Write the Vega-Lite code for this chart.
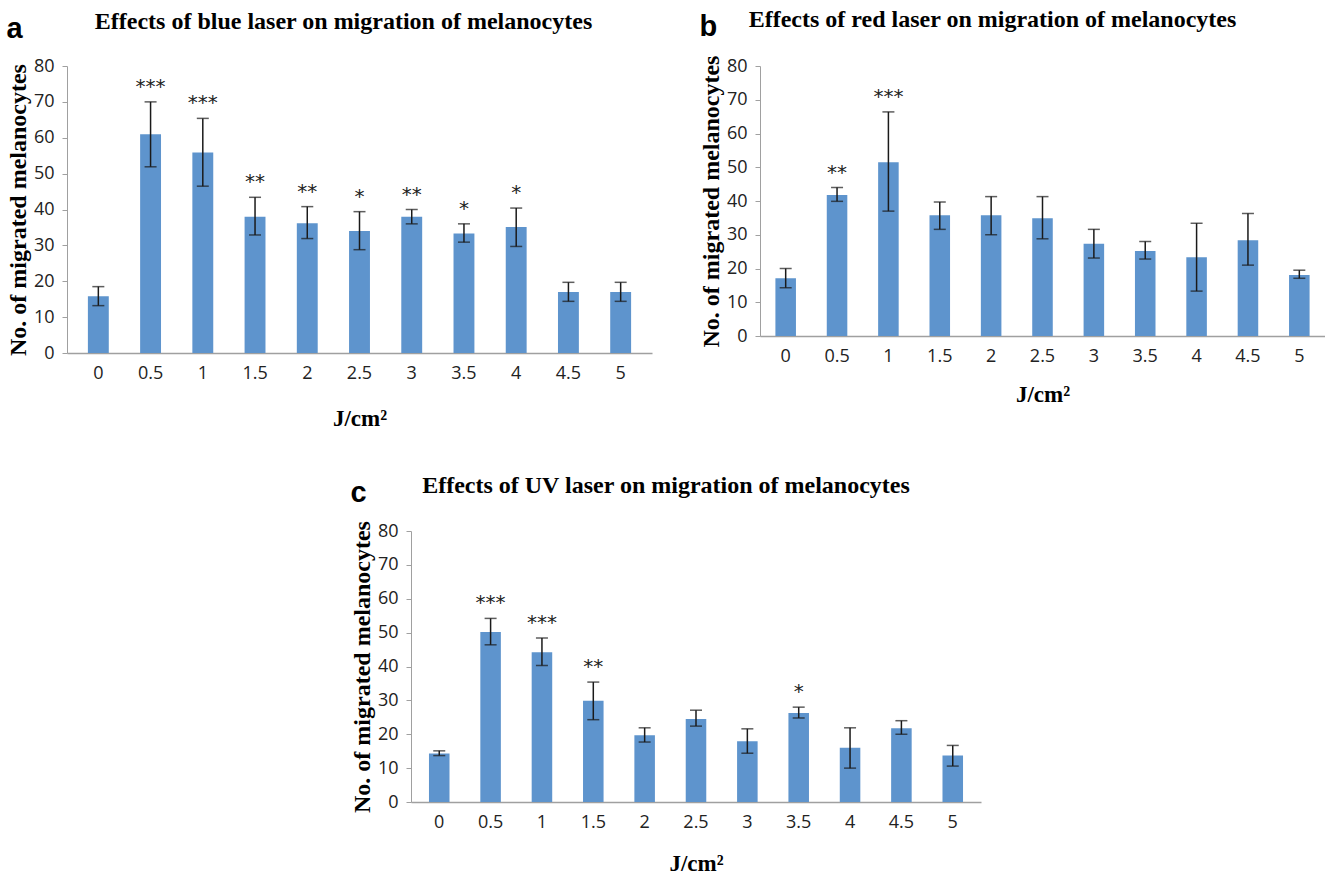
{
  "$schema": "https://vega.github.io/schema/vega-lite/v6.json",
  "padding": {"left": 6, "top": 8, "right": 0, "bottom": 0},
  "background": "white",
  "datasets": {
    "a": [
      {"dose": "0", "mean": 15.8, "lo": 13.2, "hi": 18.5, "sig": ""},
      {"dose": "0.5", "mean": 61.0, "lo": 51.9, "hi": 70.0, "sig": "***"},
      {"dose": "1", "mean": 55.9, "lo": 46.5, "hi": 65.4, "sig": "***"},
      {"dose": "1.5", "mean": 38.0, "lo": 32.9, "hi": 43.4, "sig": "**"},
      {"dose": "2", "mean": 36.2, "lo": 31.9, "hi": 40.8, "sig": "**"},
      {"dose": "2.5", "mean": 34.0, "lo": 28.8, "hi": 39.4, "sig": "*"},
      {"dose": "3", "mean": 38.0, "lo": 36.0, "hi": 40.0, "sig": "**"},
      {"dose": "3.5", "mean": 33.3, "lo": 30.9, "hi": 36.0, "sig": "*"},
      {"dose": "4", "mean": 35.1, "lo": 29.7, "hi": 40.4, "sig": "*"},
      {"dose": "4.5", "mean": 17.0, "lo": 14.4, "hi": 19.7, "sig": ""},
      {"dose": "5", "mean": 17.0, "lo": 14.4, "hi": 19.7, "sig": ""}
    ],
    "b": [
      {"dose": "0", "mean": 17.1, "lo": 14.3, "hi": 20.0, "sig": ""},
      {"dose": "0.5", "mean": 41.8, "lo": 39.9, "hi": 44.0, "sig": "**"},
      {"dose": "1", "mean": 51.5, "lo": 37.0, "hi": 66.4, "sig": "***"},
      {"dose": "1.5", "mean": 35.8, "lo": 31.6, "hi": 39.7, "sig": ""},
      {"dose": "2", "mean": 35.8, "lo": 30.0, "hi": 41.3, "sig": ""},
      {"dose": "2.5", "mean": 34.9, "lo": 28.8, "hi": 41.3, "sig": ""},
      {"dose": "3", "mean": 27.3, "lo": 23.1, "hi": 31.6, "sig": ""},
      {"dose": "3.5", "mean": 25.2, "lo": 22.8, "hi": 28.0, "sig": ""},
      {"dose": "4", "mean": 23.3, "lo": 13.3, "hi": 33.4, "sig": ""},
      {"dose": "4.5", "mean": 28.4, "lo": 21.0, "hi": 36.3, "sig": ""},
      {"dose": "5", "mean": 18.1, "lo": 17.1, "hi": 19.5, "sig": ""}
    ],
    "c": [
      {"dose": "0", "mean": 14.3, "lo": 13.7, "hi": 15.1, "sig": ""},
      {"dose": "0.5", "mean": 50.2, "lo": 46.4, "hi": 54.2, "sig": "***"},
      {"dose": "1", "mean": 44.2, "lo": 40.3, "hi": 48.4, "sig": "***"},
      {"dose": "1.5", "mean": 29.9, "lo": 24.3, "hi": 35.4, "sig": "**"},
      {"dose": "2", "mean": 19.7, "lo": 17.7, "hi": 21.9, "sig": ""},
      {"dose": "2.5", "mean": 24.5, "lo": 22.4, "hi": 27.1, "sig": ""},
      {"dose": "3", "mean": 17.9, "lo": 14.4, "hi": 21.6, "sig": ""},
      {"dose": "3.5", "mean": 26.3, "lo": 24.8, "hi": 28.0, "sig": "*"},
      {"dose": "4", "mean": 16.0, "lo": 10.0, "hi": 21.9, "sig": ""},
      {"dose": "4.5", "mean": 21.8, "lo": 20.0, "hi": 24.0, "sig": ""},
      {"dose": "5", "mean": 13.7, "lo": 10.6, "hi": 16.7, "sig": ""}
    ]
  },
  "spacing": 43,
  "center": true,
  "vconcat": [
    {
      "spacing": 47,
      "hconcat": [
        {
          "title": {"text": "a", "anchor": "start", "frame": "bounds", "offset": -34, "font": "Liberation Sans", "fontSize": 29, "fontWeight": "bold", "color": "black"},
          "hconcat": [
            {
              "width": 585,
              "height": 287,
              "title": {"text": "Effects of blue laser on migration of melanocytes", "offset": 23, "dx": -16},
              "data": {"name": "a"},
              "encoding": {
                "x": {"field": "dose", "type": "ordinal", "sort": null, "scale": {"paddingInner": 0.6, "paddingOuter": 0.4}, "axis": {"title": "J/cm²", "titlePadding": 25}}
              },
              "layer": [
                {"mark": {"type": "bar", "color": "#5e94cd"}, "encoding": {"y": {"field": "mean", "type": "quantitative", "title": "No. of migrated melanocytes", "scale": {"domain": [0, 80], "nice": false}}}},
                {"mark": {"type": "errorbar", "color": "#1a1a1a", "thickness": 1.5, "ticks": {"size": 12}}, "encoding": {"y": {"field": "lo", "type": "quantitative", "title": "No. of migrated melanocytes"}, "y2": {"field": "hi"}}},
                {"mark": {"type": "text", "font": "DejaVu Sans", "fontSize": 20, "baseline": "alphabetic", "dy": -9, "color": "#222222"}, "encoding": {"y": {"field": "hi", "type": "quantitative", "title": "No. of migrated melanocytes"}, "text": {"field": "sig"}}}
              ]
            }
          ]
        },
        {
          "title": {"text": "b", "anchor": "start", "frame": "bounds", "offset": -34, "font": "Liberation Sans", "fontSize": 29, "fontWeight": "bold", "color": "black"},
          "hconcat": [
            {
              "width": 565,
              "height": 270,
              "title": {"text": "Effects of red laser on migration of melanocytes", "offset": 23, "dx": -50},
              "data": {"name": "b"},
              "encoding": {
                "x": {"field": "dose", "type": "ordinal", "sort": null, "scale": {"paddingInner": 0.6, "paddingOuter": 0.3}, "axis": {"title": "J/cm²", "titlePadding": 18}}
              },
              "layer": [
                {"mark": {"type": "bar", "color": "#5e94cd"}, "encoding": {"y": {"field": "mean", "type": "quantitative", "title": "No. of migrated melanocytes", "scale": {"domain": [0, 80], "nice": false}}}},
                {"mark": {"type": "errorbar", "color": "#1a1a1a", "thickness": 1.5, "ticks": {"size": 12}}, "encoding": {"y": {"field": "lo", "type": "quantitative", "title": "No. of migrated melanocytes"}, "y2": {"field": "hi"}}},
                {"mark": {"type": "text", "font": "DejaVu Sans", "fontSize": 20, "baseline": "alphabetic", "dy": -9, "color": "#222222"}, "encoding": {"y": {"field": "hi", "type": "quantitative", "title": "No. of migrated melanocytes"}, "text": {"field": "sig"}}}
              ]
            }
          ]
        }
      ]
    },
    {
      "title": {"text": "c", "anchor": "start", "frame": "bounds", "offset": -34, "font": "Liberation Sans", "fontSize": 29, "fontWeight": "bold", "color": "black"},
      "hconcat": [
        {
          "width": 570,
          "height": 271,
          "title": {"text": "Effects of UV laser on migration of melanocytes", "offset": 23, "dx": -30},
          "data": {"name": "c"},
          "encoding": {
            "x": {"field": "dose", "type": "ordinal", "sort": null, "scale": {"paddingInner": 0.6, "paddingOuter": 0.35}, "axis": {"title": "J/cm²", "titlePadding": 21}}
          },
          "layer": [
            {"mark": {"type": "bar", "color": "#5e94cd"}, "encoding": {"y": {"field": "mean", "type": "quantitative", "title": "No. of migrated melanocytes", "scale": {"domain": [0, 80], "nice": false}}}},
            {"mark": {"type": "errorbar", "color": "#1a1a1a", "thickness": 1.5, "ticks": {"size": 12}}, "encoding": {"y": {"field": "lo", "type": "quantitative", "title": "No. of migrated melanocytes"}, "y2": {"field": "hi"}}},
            {"mark": {"type": "text", "font": "DejaVu Sans", "fontSize": 20, "baseline": "alphabetic", "dy": -9, "color": "#222222"}, "encoding": {"y": {"field": "hi", "type": "quantitative", "title": "No. of migrated melanocytes"}, "text": {"field": "sig"}}}
          ]
        }
      ]
    }
  ],
  "config": {
    "view": {"stroke": null},
    "axis": {
      "grid": false,
      "domainColor": "#a0a0a0",
      "tickColor": "#a0a0a0",
      "labelFont": "Open Sans",
      "labelFontSize": 18,
      "labelColor": "#222222",
      "titleFont": "Liberation Serif",
      "titleFontSize": 24,
      "titleFontWeight": "bold",
      "titleColor": "black"
    },
    "axisX": {"ticks": false, "labelAngle": 0, "labelPadding": 11, "domainWidth": 1.5, "titleFontSize": 23},
    "axisY": {"tickSize": 5, "labelPadding": 8, "titlePadding": 3, "values": [0, 10, 20, 30, 40, 50, 60, 70, 80]},
    "title": {"font": "Liberation Serif", "fontSize": 24, "fontWeight": "bold", "color": "black"}
  }
}
